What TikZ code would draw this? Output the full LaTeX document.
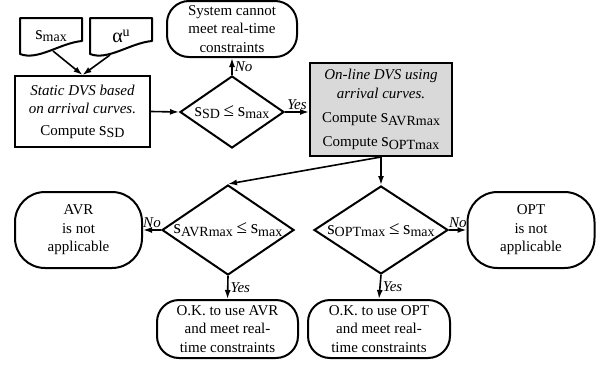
\documentclass[tikz,border=0pt]{standalone}
\usepackage{fontspec}
\setmainfont{Liberation Serif}
\usetikzlibrary{arrows.meta,shapes.geometric}

% speed symbol with a lowered subscript, alpha with a raised one
\newcommand\spd{{\fontsize{19}{19}\selectfont s}}
\newcommand\lsub[1]{\raisebox{-0.4ex}{\fontsize{14}{14}\selectfont #1}}
\newcommand\lsup[1]{\raisebox{0.9ex}{\fontsize{14}{14}\selectfont #1}}
\newcommand\leqs{{\fontsize{19}{19}\selectfont ≤}}

\tikzset{
  line/.style={line width=2pt},
  arr/.style={line width=1.6pt, -{Latex[length=9pt,width=6pt]}},
  box/.style={draw, line width=2pt, align=center, inner sep=2pt},
  term/.style={box, rounded corners=22pt},
  decision/.style={draw, diamond, line width=2pt, inner sep=0pt},
  lbl/.style={font=\fontsize{15}{18}\selectfont\itshape, inner sep=2pt},
}

\begin{document}
\begin{tikzpicture}[x=1pt, y=-1pt, font=\fontsize{15}{18.5}\selectfont]
  \useasboundingbox (0,0) rectangle (602,364);
  % input documents
  \foreach \x in {20,90}
    \draw[line, line join=round] (\x,54) -- (\x,18) -- ({\x+62},18) -- ({\x+62},41)
      .. controls ({\x+40},43) and ({\x+18},61) .. (\x,54) -- cycle;
  \node (smax) at (51,36) {\spd\lsub{max}};
  \node (alpha) at (121,36) {{\fontsize{20}{20}\selectfont α}\lsup{u}};
  \coordinate (smax-foot) at (53,51);
  \coordinate (alpha-foot) at (110,55);

  \node[box, minimum width=135pt, minimum height=71pt] (static) at (82.5,111.5)
    {\textit{Static DVS based}\\\textit{on arrival curves.}\\[3pt]Compute \spd\lsub{SD}};
  \node[decision, minimum width=104pt, minimum height=72pt,
    label=center:{\spd\lsub{SD} \leqs{} \spd\lsub{max}}] (test) at (232,112) {};
  \node[term, minimum width=130pt, minimum height=56pt, rounded corners=22pt] (fail)
    at (232,29) {System cannot\\meet real-time\\constraints};
  \node[box, fill=black!15, minimum width=142pt, minimum height=93pt] (online) at (381,109.5)
    {\textit{On-line DVS using}\\\textit{arrival curves.}\\[6pt]Compute \spd\lsub{AVRmax}\\[5pt]Compute \spd\lsub{OPTmax}};

  % the two policy checks
  \node[decision, minimum width=132pt, minimum height=90pt,
    label=center:{\spd\lsub{AVRmax} \leqs{} \spd\lsub{max}}] (avrtest) at (228,230) {};
  \node[decision, minimum width=134pt, minimum height=88pt,
    label=center:{\spd\lsub{OPTmax} \leqs{} \spd\lsub{max}}] (opttest) at (381,230) {};
  \node[term, minimum width=127pt, minimum height=76pt, rounded corners=30pt] (avrno)
    at (78.5,230) {AVR\\is not\\applicable};
  \node[term, minimum width=127pt, minimum height=76pt, rounded corners=30pt] (optno)
    at (531,230) {OPT\\is not\\applicable};
  \node[term, minimum width=141pt, minimum height=58pt] (avrok)
    at (227.5,329) {O.K. to use AVR\\and meet real-\\time constraints};
  \node[term, minimum width=142pt, minimum height=58pt] (optok)
    at (379,329) {O.K. to use OPT\\and meet real-\\time constraints};

  % connectors
  \draw[arr] (smax-foot) -- (static.north);
  \draw[arr] (alpha-foot) -- (static.north);
  \draw[arr] (static.east) -- (test.west);
  \draw[arr] (test.north) -- node[lbl, right] {No} (fail.south);
  \draw[arr] (test.east) -- node[lbl, above] {Yes} (test.east -| online.west);
  \draw[arr] (online.south) -- (avrtest.north);
  \draw[arr] (online.south) -- (opttest.north);
  \draw[arr] (avrtest.west) -- node[lbl, above] {No} (avrno.east);
  \draw[arr] (opttest.east) -- node[lbl, above] {No} (optno.west);
  \draw[arr] (avrtest.south) -- node[lbl, right] {Yes} (avrok.north);
  \draw[arr] (opttest.south) -- node[lbl, right] {Yes} (optok.north);
\end{tikzpicture}
\end{document}
